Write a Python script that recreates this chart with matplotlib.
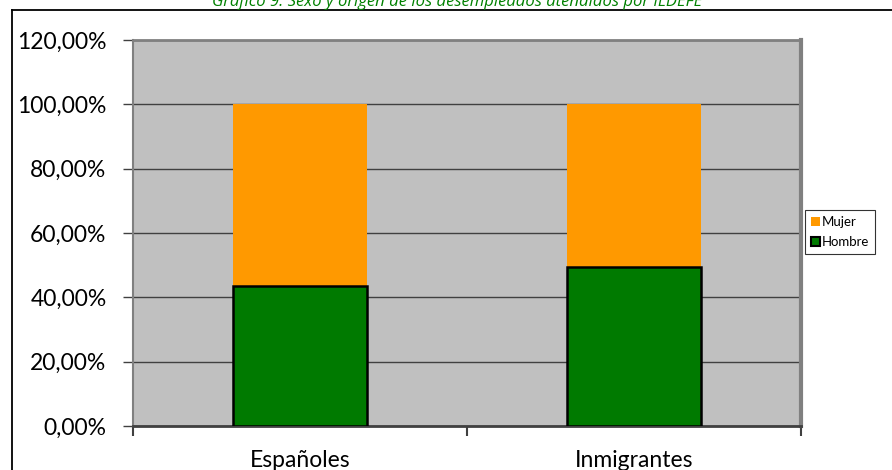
import matplotlib
matplotlib.use("Agg")
import matplotlib.pyplot as plt
from matplotlib.patches import Patch
from matplotlib.lines import Line2D
import numpy as np

categories = ["Españoles", "Inmigrantes"]
hombre = [43.6, 49.5]
mujer = [56.4, 50.5]
yticks = [0, 20, 40, 60, 80, 100, 120]
ytick_labels = ["0,00%", "20,00%", "40,00%", "60,00%", "80,00%", "100,00%", "120,00%"]
title = "Gráfico 9. Sexo y origen de los desempleados atendidos por ILDEFE"

W, H = 892, 470
fig = plt.figure(figsize=(W / 100, H / 100), dpi=100)
fig.patch.set_facecolor("white")

# outer chart border (top and left visible)
fig.add_artist(Line2D([12 / W, 1], [1 - 10 / H, 1 - 10 / H], color="black", lw=1.3, transform=fig.transFigure))
fig.add_artist(Line2D([12 / W, 12 / W], [0, 1 - 10 / H], color="black", lw=1.3, transform=fig.transFigure))

fig.text(457 / W, 1 - 6 / H, title, color="#008000", style="italic", fontsize=12,
         ha="center", va="baseline", family=["Open Sans", "DejaVu Sans"])

ax = fig.add_axes([133 / W, 44 / H, (801 - 133) / W, (426 - 40) / H])
ax.set_facecolor("#c0c0c0")
x = np.arange(len(categories))
ax.set_xlim(-0.5, len(categories) - 0.5)
ax.set_ylim(0, 120)

ax.set_axisbelow(True)
ax.yaxis.grid(True, color="#404040", lw=1)
ax.bar(x, hombre, width=0.4, color="#007a00", edgecolor="black", lw=1.8, zorder=3)
ax.bar(x, mujer, bottom=hombre, width=0.4, color="#ff9900", edgecolor="none", zorder=2)

ax.set_yticks(yticks)
ax.set_yticklabels(ytick_labels, family="Lato", fontsize=16.5)
ax.set_xticks(x)
ax.set_xticklabels(categories, family="Lato", fontsize=16.5)
ax.tick_params(axis="x", length=0, pad=17)
ax.tick_params(axis="y", length=7, width=1, color="#404040", pad=12)
# category boundary ticks
ax.set_xticks([-0.5, 0.5, 1.5], minor=True)
ax.tick_params(axis="x", which="minor", length=7, width=1.5, color="#404040")

for s in ["top", "right", "left"]:
    ax.spines[s].set_color("#808080")
    ax.spines[s].set_linewidth(1.5)
ax.spines["right"].set_linewidth(3)
ax.spines["top"].set_linewidth(2)
ax.spines["bottom"].set_color("#404040")
ax.spines["bottom"].set_linewidth(2)

handles = [Patch(facecolor="#ff9900", edgecolor="none", label="Mujer"),
           Patch(facecolor="#007a00", edgecolor="black", lw=1.5, label="Hombre")]
leg = fig.legend(handles=handles, loc="upper left", bbox_to_anchor=(805 / W, 1 - 210 / H),
                 prop={"family": "Lato", "size": 9.5}, frameon=True, fancybox=False,
                 edgecolor="black", handlelength=0.7, handleheight=0.7, handletextpad=0.15,
                 borderpad=0.45, labelspacing=0.6, borderaxespad=0)
leg.get_frame().set_linewidth(0.8)

fig.savefig("out.png", dpi=100)
